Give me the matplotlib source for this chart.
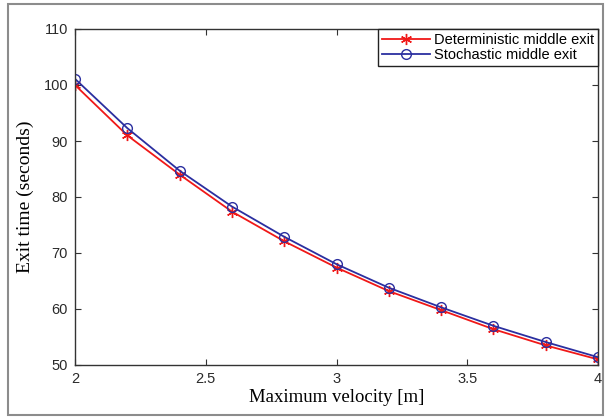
import matplotlib.pyplot as plt
from matplotlib.patches import Rectangle

# Data
velocity = [2.0, 2.2, 2.4, 2.6, 2.8, 3.0, 3.2, 3.4, 3.6, 3.8, 4.0]
det_exit = [100.0, 91.0, 84.0, 77.4, 72.1, 67.4, 63.2, 59.8, 56.4, 53.5, 51.0]
sto_exit = [101.1, 92.3, 84.7, 78.3, 72.9, 68.0, 63.8, 60.3, 57.0, 54.1, 51.4]

xticks = [2, 2.5, 3, 3.5, 4]
xticklabels = ['2', '2.5', '3', '3.5', '4']
yticks = [50, 60, 70, 80, 90, 100, 110]

fig = plt.figure(figsize=(6.05, 4.17), dpi=100)
ax = fig.add_axes([75 / 605, 1 - 365 / 417, (598 - 75) / 605, (365 - 29) / 417])

# outer gray frame like the screenshot
fig.patches.append(Rectangle((8 / 605, 2 / 417), (603 - 8) / 605, (413 - 2) / 417,
                             transform=fig.transFigure, fill=False,
                             edgecolor='#8c8c8c', lw=1.5))

# MATLAB style asterisk marker
ax.plot(velocity, det_exit, color='#f01818', lw=1.3, marker=(6, 2, 0), ms=8,
        mew=1.0, label='Deterministic middle exit')
ax.plot(velocity, sto_exit, color='#2b2fa0', lw=1.3, marker='o', ms=7,
        mfc='none', mew=1.0, label='Stochastic middle exit')

ax.set_xlim(2, 4)
ax.set_ylim(50, 110)
ax.set_xticks(xticks)
ax.set_xticklabels(xticklabels)
ax.set_yticks(yticks)
ax.tick_params(direction='in', top=True, right=True, length=4, pad=5,
               labelsize=10.5, labelcolor='#2a2a2a', color='#333333')
for lab in ax.get_xticklabels() + ax.get_yticklabels():
    lab.set_family('Liberation Sans')
for s in ax.spines.values():
    s.set_color('#333333')
    s.set_linewidth(1.0)

ax.set_xlabel('Maximum velocity [m]', family='Liberation Serif', fontsize=13.5, labelpad=2)
ax.set_ylabel('Exit time (seconds)', family='Liberation Serif', fontsize=14, labelpad=7)

leg = ax.legend(loc='upper right', prop={'family': 'Liberation Sans', 'size': 10.5},
                fancybox=False, framealpha=1, edgecolor='#222222',
                borderpad=0.25, labelspacing=0.1, handlelength=3.3,
                handletextpad=0.3, borderaxespad=0.0)
leg.get_frame().set_linewidth(1.0)

fig.savefig('out.png', dpi=100)
